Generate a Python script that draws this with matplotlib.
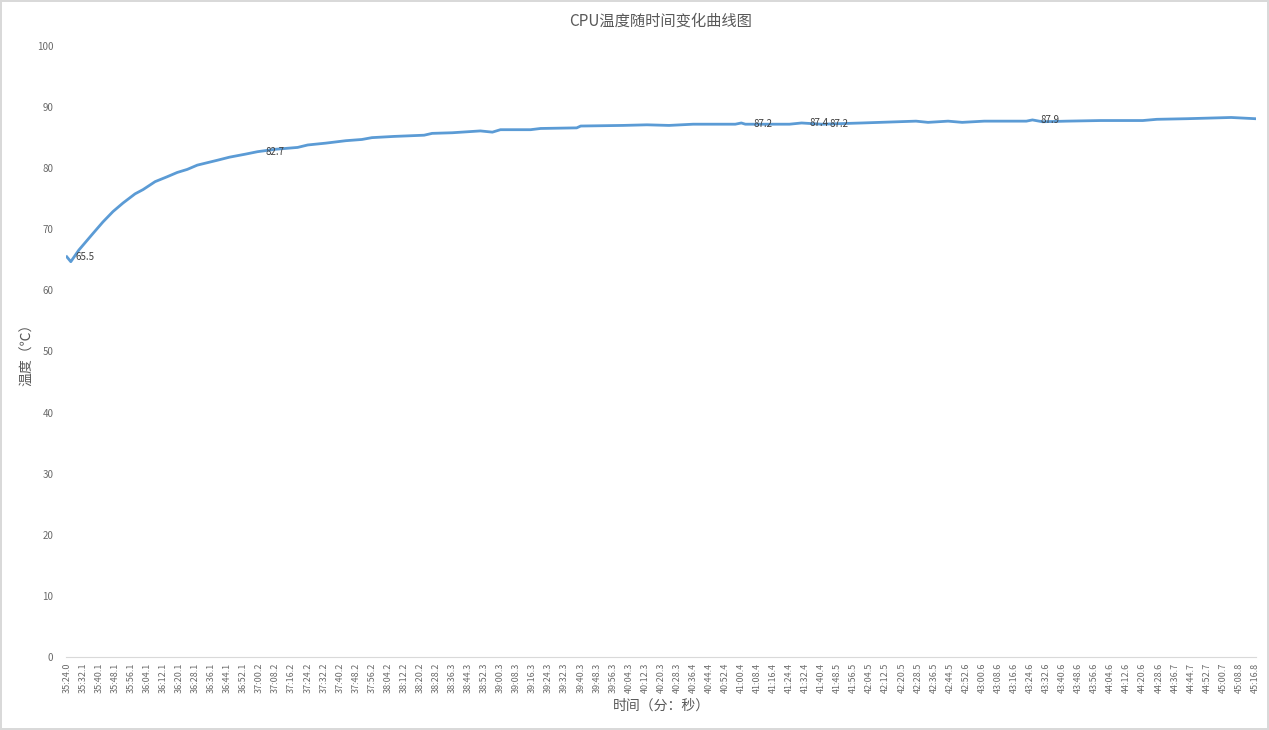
import numpy as np
import matplotlib
matplotlib.use("Agg")
import matplotlib.pyplot as plt

plt.rcParams['font.family'] = ['Noto Sans CJK SC', 'DejaVu Sans']

# sample index (one sample per second) and temperature
elapsed = [0, 2, 6, 13, 18, 23, 28, 34, 38, 44, 50, 55, 60, 65, 70, 75, 81, 89, 95,
           104, 115, 120, 129, 139, 147, 152, 163, 178, 182, 192, 206, 212, 216,
           231, 236, 254, 256, 277, 289, 300, 312, 333, 336, 338, 349, 360, 366,
           376, 396, 423, 429, 439, 446, 457, 467, 478, 481, 486, 498, 515, 536,
           543, 558, 580, 586, 592]
temp = [65.5, 64.7, 66.6, 69.3, 71.2, 72.9, 74.3, 75.8, 76.5, 77.8, 78.6, 79.3,
        79.8, 80.5, 80.9, 81.3, 81.8, 82.3, 82.7, 83.1, 83.4, 83.8, 84.1, 84.5,
        84.7, 85.0, 85.2, 85.4, 85.7, 85.8, 86.1, 85.9, 86.3, 86.3, 86.5, 86.6,
        86.9, 87.0, 87.1, 87.0, 87.2, 87.2, 87.4, 87.2, 87.2, 87.2, 87.4, 87.2,
        87.4, 87.7, 87.5, 87.7, 87.5, 87.7, 87.7, 87.7, 87.9, 87.6, 87.7, 87.8,
        87.8, 88.0, 88.1, 88.3, 88.2, 88.1]

# points that carry a data label
labelled = [0, 95, 338, 366, 376, 481]

tick_labels = ['35:24.0', '35:32.1', '35:40.1', '35:48.1', '35:56.1', '36:04.1',
               '36:12.1', '36:20.1', '36:28.1', '36:36.1', '36:44.1', '36:52.1',
               '37:00.2', '37:08.2', '37:16.2', '37:24.2', '37:32.2', '37:40.2',
               '37:48.2', '37:56.2', '38:04.2', '38:12.2', '38:20.2', '38:28.2',
               '38:36.3', '38:44.3', '38:52.3', '39:00.3', '39:08.3', '39:16.3',
               '39:24.3', '39:32.3', '39:40.3', '39:48.3', '39:56.3', '40:04.3',
               '40:12.3', '40:20.3', '40:28.3', '40:36.4', '40:44.4', '40:52.4',
               '41:00.4', '41:08.4', '41:16.4', '41:24.4', '41:32.4', '41:40.4',
               '41:48.5', '41:56.5', '42:04.5', '42:12.5', '42:20.5', '42:28.5',
               '42:36.5', '42:44.5', '42:52.6', '43:00.6', '43:08.6', '43:16.6',
               '43:24.6', '43:32.6', '43:40.6', '43:48.6', '43:56.6', '44:04.6',
               '44:12.6', '44:20.6', '44:28.6', '44:36.7', '44:44.7', '44:52.7',
               '45:00.7', '45:08.8', '45:16.8']
tick_step = 8

fig = plt.figure(figsize=(12.69, 7.3), dpi=100, edgecolor='#d9d9d9', linewidth=1.5)
ax = fig.add_axes([0.052, 0.1, 0.9378, 0.837])

ax.plot(elapsed, temp, color='#5b9bd5', linewidth=2.0, solid_joinstyle='round')

# data labels to the right of the points
for i in labelled:
    k = elapsed.index(i)
    ax.annotate(f"{temp[k]:.1f}", (elapsed[k], temp[k]), xytext=(6, 0),
                textcoords='offset points', ha='left', va='center',
                fontsize=7, color='#404040')

ax.set_xlim(-0.4, len(tick_labels) * tick_step - tick_step + 0.4)
ax.set_ylim(0, 100)
ax.set_yticks(np.arange(0, 101, 10))
ax.set_xticks(np.arange(len(tick_labels)) * tick_step)
ax.set_xticklabels(tick_labels, rotation=90, fontsize=6.5, color='#6a6a6a')
ax.tick_params(axis='y', labelsize=7, colors='#6a6a6a', length=0, pad=9)
ax.tick_params(axis='x', length=0, pad=4)

for s in ['top', 'right', 'left']:
    ax.spines[s].set_visible(False)
ax.spines['bottom'].set_color('#d9d9d9')

ax.set_title('CPU温度随时间变化曲线图', fontsize=11, color='#595959', pad=15)
ax.set_xlabel('时间（分：秒）', fontsize=10, color='#595959', labelpad=4)
ax.set_ylabel('温度（℃）', fontsize=10, color='#595959', labelpad=2)

fig.savefig('out.png', dpi=100, edgecolor=fig.get_edgecolor())
